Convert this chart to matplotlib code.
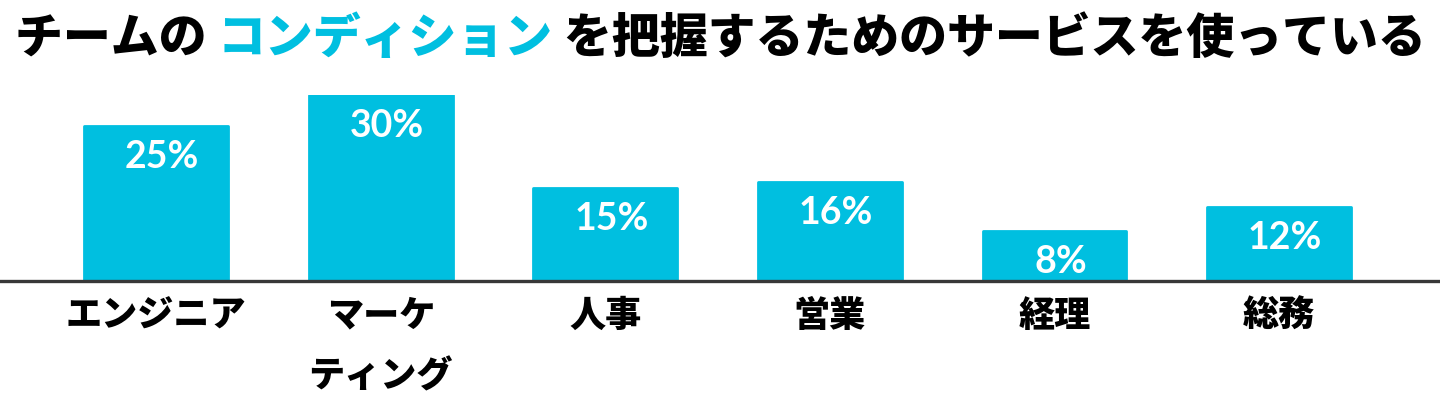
import matplotlib.pyplot as plt

# data
categories = ["エンジニア", "マーケ\nティング", "人事", "営業", "経理", "総務"]
values = [25, 30, 15, 16, 8, 12]
labels = ["25%", "30%", "15%", "16%", "8%", "12%"]
title_parts = ["チームの ", "コンディション", " を把握するためのサービスを使っている"]

cyan = "#00BFE0"
jp = ["Noto Sans CJK JP", "DejaVu Sans"]

fig = plt.figure(figsize=(14.4, 4), dpi=100)
ax = fig.add_axes([0, 119 / 400, 1, 186 / 400])

x = list(range(len(categories)))
ax.bar(x, values, width=0.64, color=cyan, edgecolor=cyan, linewidth=2,
       joinstyle="round", zorder=2)
ax.axhline(0, color="#383838", linewidth=2.4, zorder=3, clip_on=False)

for xi, v, lab in zip(x, values, labels):
    ax.annotate(lab, xy=(xi, v), xytext=(6, -31), textcoords="offset pixels",
                ha="center", va="center", color="white", fontsize=27,
                fontweight="bold", family=["Lato", "DejaVu Sans"])

ax.set_xlim(-0.695, 5.716)
ax.set_ylim(0, 30)
ax.set_xticks(x)
ax.set_xticklabels(categories, family=jp, fontsize=26, fontweight="heavy",
                   linespacing=1.85, va="top")
ax.tick_params(axis="x", length=0, pad=12)
ax.set_yticks([])
for s in ax.spines.values():
    s.set_visible(False)
ax.patch.set_alpha(0)

# title in three coloured pieces
t = fig.text(15 / 1440, 361 / 400, title_parts[0], family=jp, fontsize=34.5,
             fontweight="heavy", color="black", va="center", ha="left")
t2 = fig.text(0, 0, title_parts[1], family=jp, fontsize=34.5, fontweight="heavy",
              color=cyan, va="bottom", ha="left")
t3 = fig.text(0, 0, title_parts[2], family=jp, fontsize=34.5, fontweight="heavy",
              color="black", va="bottom", ha="left")
fig.canvas.draw()
r = fig.canvas.get_renderer()
bb = t.get_window_extent(r)
t2.set_position((bb.x1 / fig.bbox.width, bb.y0 / fig.bbox.height))
bb2 = t2.get_window_extent(r)
t3.set_position((bb2.x1 / fig.bbox.width, bb.y0 / fig.bbox.height))

fig.savefig("out.png", dpi=100)
